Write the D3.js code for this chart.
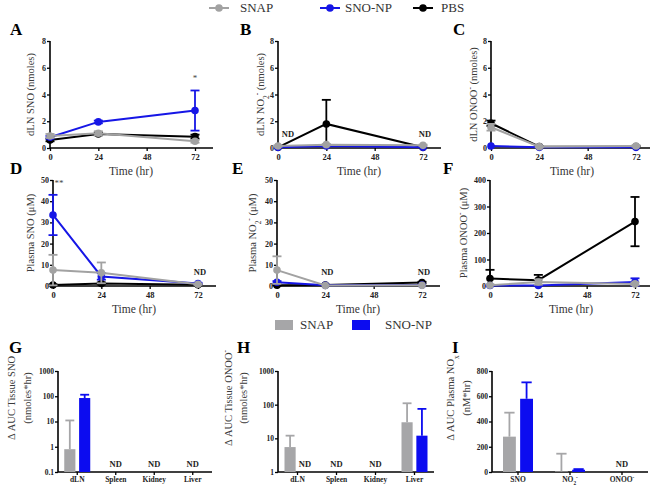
<!DOCTYPE html>
<html>
<head>
<meta charset="utf-8">
<script src="https://cdn.jsdelivr.net/npm/d3@7"></script>
<style>
  body { margin: 0; background: #fff; }
  svg, svg text { font-family: "Liberation Serif", "Times New Roman", "DejaVu Serif", serif; }
</style>
</head>
<body>
<svg id="chart" width="650" height="487"></svg>
<script>
  // ---- data ----
  var times = [0, 24, 72];
  var timeTicks = [0, 24, 48, 72];
  var seriesNames = ['SNAP', 'SNO-NP', 'PBS'];
  var seriesColors = ['#a2a2a2', '#1616e6', '#000000'];

  // each: [SNAP, SNO-NP, PBS] x time points
  var dlnSNO = [[0.9, 1.1, 0.5], [0.8, 1.95, 2.8], [0.6, 1.05, 0.85]];
  var dlnSNOErr = [[0.15, 0.15, 0.1], [0.1, 0.1, 1.5], [0.1, 0.1, 0.15]];
  var dlnNO2 = [[0.15, 0.25, 0.2], [0.05, 0.15, 0.05], [0.05, 1.8, 0.05]];
  var dlnNO2Err = [[0.05, 0.05, 0.05], [0, 0, 0], [0, 1.8, 0]];
  var dlnONOO = [[1.55, 0.1, 0.15], [0.15, 0.05, 0.05], [1.85, 0.1, 0.1]];
  var dlnONOOErr = [[0.25, 0.05, 0.05], [0, 0, 0], [0.2, 0.05, 0.05]];
  var plasmaSNO = [[7.5, 6.2, 0.8], [33.5, 4.5, 1.2], [0.5, 1.2, 0.6]];
  var plasmaSNOErr = [[7.2, 4.9, 0.3], [9.5, 1.5, 0.3], [0.3, 0.5, 0.2]];
  var plasmaNO2 = [[7.5, 0.2, 0.3], [1.8, 0.3, 0.5], [0.4, 0.5, 1.6]];
  var plasmaNO2Err = [[6.5, 0, 0], [0.5, 0, 0], [0.2, 0.2, 0.4]];
  var plasmaONOO = [[3, 15, 8], [2, 2, 15], [28, 22, 243]];
  var plasmaONOOErr = [[3, 10, 5], [1, 1, 14], [33, 20, 93]];

  var tissues = ['dLN', 'Spleen', 'Kidney', 'Liver'];
  var plasmaSpecies = ['SNO', 'NO2', 'ONOO'];
  var barNames = ['SNAP', 'SNO-NP'];
  var barColors = ['#a6a6a8', '#0c0cf0'];
  // AUC values (null = not detected), errors are upper SD
  var aucTissueSNO = [[0.8, null, null, null], [85, null, null, null]];
  var aucTissueSNOErr = [[10.2, null, null, null], [30, null, null, null]];
  var aucTissueONOO = [[5.5, null, null, 30], [null, null, null, 12]];
  var aucTissueONOOErr = [[6.5, null, null, 80], [null, null, null, 63]];
  var aucPlasma = [[280, 5, null], [580, 18, null]];
  var aucPlasmaErr = [[190, 140, null], [130, 5, null]];

  var FONT = '"Liberation Serif", "Times New Roman", "DejaVu Serif", serif';
  var svg = d3.select('#chart').attr('font-family', FONT);

  function rich(sel, parts) {
    parts.forEach(function (p) {
      var t = sel.append('tspan').text(p[0]);
      if (p[1] === 'sub') t.attr('baseline-shift', 'sub').attr('font-size', '70%');
      if (p[1] === 'sup') t.attr('baseline-shift', 'super').attr('font-size', '70%');
    });
  }

  function letter(txt, x, y) {
    svg.append('text').attr('x', x).attr('y', y).attr('font-size', 17)
      .attr('font-weight', 'bold').attr('font-family', FONT).text(txt);
  }

  function styleTicks(sel, size) {
    sel.attr('font-family', FONT);
    sel.select('.domain').remove();
    sel.selectAll('.tick line').attr('stroke', '#000').attr('stroke-width', 1.3);
    sel.selectAll('.tick text').attr('font-size', size).attr('font-weight', 'bold')
      .attr('fill', '#222').attr('font-family', FONT);
  }

  function yLabel(lines, lx, cy) {
    lines.forEach(function (parts, i) {
      var t = svg.append('text')
        .attr('transform', 'translate(' + lx[i] + ',' + cy + ') rotate(-90)')
        .attr('text-anchor', 'middle').attr('dy', '0.35em').attr('font-family', FONT)
        .attr('font-size', 10.5).attr('fill', '#3a3a3a');
      rich(t, parts);
    });
  }

  function linePanel(p) {
    var g = svg.append('g');
    var x = d3.scaleLinear().domain([0, 72]).range([p.x0, p.x0 + 145]);
    var y = d3.scaleLinear().domain([0, p.yMax]).range([p.yBot, p.yTop]);

    var xa = g.append('g').attr('transform', 'translate(0,' + p.yBot + ')')
      .call(d3.axisBottom(x).tickValues(timeTicks).tickSize(3).tickPadding(3));
    styleTicks(xa, 8.5);
    var ya = g.append('g').attr('transform', 'translate(' + p.x0 + ',0)')
      .call(d3.axisLeft(y).tickValues(p.yTicks).tickSize(3).tickPadding(1));
    styleTicks(ya, 8);
    g.append('line').attr('x1', p.x0).attr('x2', p.x0 + 163)
      .attr('y1', p.yBot).attr('y2', p.yBot).attr('stroke', '#000').attr('stroke-width', 1.6);
    g.append('line').attr('x1', p.x0).attr('x2', p.x0)
      .attr('y1', p.yBot).attr('y2', p.yTop).attr('stroke', '#000').attr('stroke-width', 1.6);

    var order = [2, 1, 0];
    var line = d3.line().x(function (d) { return x(d[0]); }).y(function (d) { return y(d[1]); });
    order.forEach(function (s) {
      var col = seriesColors[s];
      var pts = times.map(function (t, i) { return [t, p.means[s][i], p.errs[s][i]]; });
      g.append('path').datum(pts).attr('d', line).attr('fill', 'none')
        .attr('stroke', col).attr('stroke-width', 2);
      pts.forEach(function (d) {
        if (d[2] <= 0) return;
        var cx = x(d[0]);
        var hi = y(Math.min(d[1] + d[2], p.yMax));
        var loV = d[1] - d[2];
        var lo = y(Math.max(loV, 0));
        g.append('line').attr('x1', cx).attr('x2', cx).attr('y1', lo).attr('y2', hi)
          .attr('stroke', col).attr('stroke-width', 1.8);
        g.append('line').attr('x1', cx - 4.5).attr('x2', cx + 4.5).attr('y1', hi).attr('y2', hi)
          .attr('stroke', col).attr('stroke-width', 1.8);
        if (loV > 0) {
          g.append('line').attr('x1', cx - 4.5).attr('x2', cx + 4.5).attr('y1', lo).attr('y2', lo)
            .attr('stroke', col).attr('stroke-width', 1.8);
        }
      });
      g.selectAll(null).data(pts).enter().append('circle')
        .attr('cx', function (d) { return x(d[0]); })
        .attr('cy', function (d) { return y(d[1]); })
        .attr('r', 3.8).attr('fill', col);
    });

    (p.nd || []).forEach(function (t) {
      g.append('text').attr('x', x(t) + (t === 0 ? 10 : 2)).attr('y', p.yBot - 11)
        .attr('text-anchor', 'middle').attr('font-size', 8.5).attr('font-weight', 'bold')
        .attr('fill', '#222').text('ND');
    });
    if (p.star) {
      g.append('text').attr('x', x(p.star[0]) + (p.star[0] === 0 ? 6 : 0)).attr('y', y(p.star[1]))
        .attr('text-anchor', 'middle').attr('font-size', 9).attr('fill', '#444').text(p.star[2]);
    }
    svg.append('text').attr('x', p.x0 + 81).attr('y', p.yBot + 27)
      .attr('text-anchor', 'middle').attr('font-size', 11.5).attr('fill', '#333').text('Time (hr)');
    yLabel([p.label], [p.lx], (p.yTop + p.yBot) / 2);
    letter(p.letter, p.lx - 20, p.yTop - 6);
  }

  function barPanel(p) {
    var g = svg.append('g');
    var x = d3.scaleBand().domain(p.cats).range([p.x0, p.x0 + p.w]).paddingInner(0).paddingOuter(0);
    var sub = d3.scaleBand().domain(barNames).range([-p.bw - 2, p.bw + 2]).paddingInner(0.25);
    var y = p.log ? d3.scaleLog().domain(p.yDom).range([p.yBot, p.yTop])
                  : d3.scaleLinear().domain(p.yDom).range([p.yBot, p.yTop]);
    var xa = g.append('g').attr('transform', 'translate(0,' + p.yBot + ')')
      .call(d3.axisBottom(x).tickSize(3).tickPadding(2).tickFormat(function () { return ''; }));
    styleTicks(xa, 7.5);
    xa.selectAll('.tick text').each(function (d, i) { rich(d3.select(this), p.catLabels[i]); });
    var ya = g.append('g').attr('transform', 'translate(' + p.x0 + ',0)')
      .call(d3.axisLeft(y).tickValues(p.yTicks).tickFormat(function (d) { return String(d); })
        .tickSize(3).tickPadding(1));
    styleTicks(ya, 7.5);
    g.append('line').attr('x1', p.x0).attr('x2', p.x0 + p.w)
      .attr('y1', p.yBot).attr('y2', p.yBot).attr('stroke', '#000').attr('stroke-width', 1.6);
    g.append('line').attr('x1', p.x0).attr('x2', p.x0)
      .attr('y1', p.yBot).attr('y2', p.yTop).attr('stroke', '#000').attr('stroke-width', 1.6);

    barNames.forEach(function (name, s) {
      var col = barColors[s];
      p.cats.forEach(function (c, i) {
        var v = p.vals[s][i];
        if (v === null) return;
        var bx = x(c) + x.bandwidth() / 2 + sub(name);
        var bw = sub.bandwidth();
        var top = y(v + p.errs[s][i]);
        var cx = bx + bw / 2;
        g.append('line').attr('x1', cx).attr('x2', cx).attr('y1', y(v)).attr('y2', top)
          .attr('stroke', col).attr('stroke-width', 1.8);
        g.append('line').attr('x1', cx - bw * 0.4).attr('x2', cx + bw * 0.4).attr('y1', top).attr('y2', top)
          .attr('stroke', col).attr('stroke-width', 1.8);
        g.append('rect').attr('x', bx).attr('y', y(v)).attr('width', bw)
          .attr('height', p.yBot - y(v)).attr('fill', col);
      });
    });
    p.nd.forEach(function (n) {
      var cx = x(n[0]) + x.bandwidth() / 2;
      if (n[1]) cx += sub(n[1]) + sub.bandwidth() / 2;
      g.append('text').attr('x', cx).attr('y', p.yBot - 5).attr('text-anchor', 'middle')
        .attr('font-size', 8.5).attr('font-weight', 'bold').attr('fill', '#222').text('ND');
    });
    yLabel(p.label, p.lx, p.labelY);
    letter(p.letter, p.letterX, 353);
  }

  // ---- row 1 ----
  var row1 = { yTop: 41, yBot: 148, yMax: 8, yTicks: [0, 2, 4, 6, 8] };
  linePanel(Object.assign({}, row1, { x0: 50, lx: 30, letter: 'A', means: dlnSNO, errs: dlnSNOErr,
    label: [['dLN SNO (nmoles)']], star: [72, 5.0, '*'] }));
  linePanel(Object.assign({}, row1, { x0: 278, lx: 260, letter: 'B', means: dlnNO2, errs: dlnNO2Err,
    label: [['dLN NO'], ['2', 'sub'], ['-', 'sup'], [' (nmoles)']], nd: [0, 72] }));
  linePanel(Object.assign({}, row1, { x0: 491, lx: 473, letter: 'C', means: dlnONOO, errs: dlnONOOErr,
    label: [['dLN ONOO'], ['-', 'sup'], [' (nmoles)']] }));

  // ---- row 2 ----
  var row2 = { yTop: 180, yBot: 286 };
  linePanel(Object.assign({}, row2, { x0: 53, lx: 30, letter: 'D', yMax: 50, yTicks: [0, 10, 20, 30, 40, 50],
    means: plasmaSNO, errs: plasmaSNOErr, label: [['Plasma SNO (\u03bcM)']], nd: [72],
    star: [0, 47, '**'] }));
  linePanel(Object.assign({}, row2, { x0: 277, lx: 252, letter: 'E', yMax: 50, yTicks: [0, 10, 20, 30, 40, 50],
    means: plasmaNO2, errs: plasmaNO2Err, label: [['Plasma NO'], ['2', 'sub'], ['-', 'sup'], [' (\u03bcM)']],
    nd: [24, 72] }));
  linePanel(Object.assign({}, row2, { x0: 490, lx: 463, letter: 'F', yMax: 400, yTicks: [0, 100, 200, 300, 400],
    means: plasmaONOO, errs: plasmaONOOErr, label: [['Plasma ONOO'], ['-', 'sup'], [' (\u03bcM)']] }));

  // ---- legends ----
  var leg1 = svg.append('g');
  [[209, 240], [320, 345], [413, 441]].forEach(function (pos, i) {
    leg1.append('line').attr('x1', pos[0]).attr('x2', pos[0] + 20).attr('y1', 8).attr('y2', 8)
      .attr('stroke', seriesColors[i]).attr('stroke-width', 2);
    leg1.append('circle').attr('cx', pos[0] + 10).attr('cy', 8).attr('r', 3.8).attr('fill', seriesColors[i]);
    leg1.append('text').attr('x', pos[1]).attr('y', 12).attr('font-size', 13).attr('fill', '#333')
      .text(seriesNames[i]);
  });
  var leg2 = svg.append('g');
  [[275, 300], [352, 385]].forEach(function (pos, i) {
    leg2.append('rect').attr('x', pos[0]).attr('y', 320).attr('width', 18).attr('height', 10)
      .attr('fill', barColors[i]);
    leg2.append('text').attr('x', pos[1]).attr('y', 329).attr('font-size', 13).attr('fill', '#333')
      .text(barNames[i]);
  });

  // ---- row 3 ----
  var tissueLabels = tissues.map(function (t) { return [[t]]; });
  barPanel({ x0: 58, w: 154, yTop: 371, yBot: 472, log: true, yDom: [0.1, 1000],
    yTicks: [0.1, 1, 10, 100, 1000], cats: tissues, catLabels: tissueLabels, bw: 11,
    vals: aucTissueSNO, errs: aucTissueSNOErr, nd: [['Spleen'], ['Kidney'], ['Liver']],
    label: [[['\u0394 AUC Tissue SNO']], [['(nmoles*hr)']]], lx: [11, 27], labelY: 398,
    letter: 'G', letterX: 9 });
  barPanel({ x0: 278, w: 156, yTop: 371, yBot: 472, log: true, yDom: [1, 1000],
    yTicks: [1, 10, 100, 1000], cats: tissues, catLabels: tissueLabels, bw: 11,
    vals: aucTissueONOO, errs: aucTissueONOOErr, nd: [['dLN', 'SNO-NP'], ['Spleen'], ['Kidney']],
    label: [[['\u0394 AUC Tissue ONOO'], ['-', 'sup']], [['(nmoles*hr)']]], lx: [228, 243], labelY: 398,
    letter: 'H', letterX: 237 });
  barPanel({ x0: 492, w: 156, yTop: 371, yBot: 472, log: false, yDom: [0, 800],
    yTicks: [0, 200, 400, 600, 800], cats: plasmaSpecies,
    catLabels: [[['SNO']], [['NO'], ['2', 'sub'], ['-', 'sup']], [['ONOO'], ['-', 'sup']]], bw: 13,
    vals: aucPlasma, errs: aucPlasmaErr, nd: [['ONOO']],
    label: [[['\u0394 AUC Plasma NO'], ['x', 'sub']], [['(nM*hr)']]], lx: [450, 466], labelY: 398,
    letter: 'I', letterX: 452 });
</script>
</body>
</html>
